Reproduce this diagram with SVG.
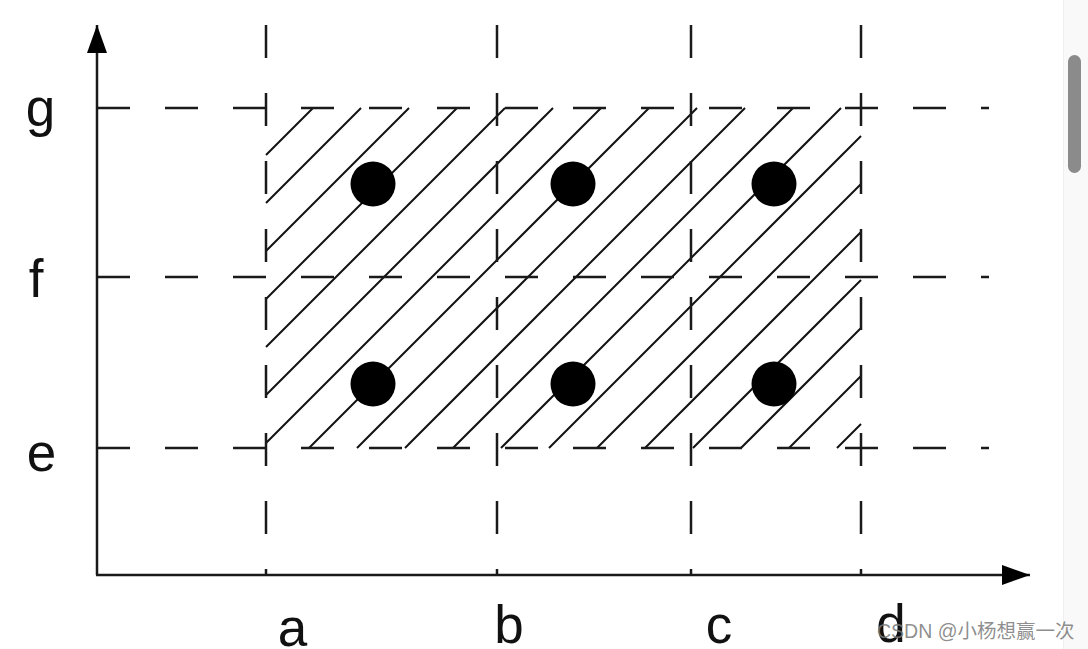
<svg xmlns="http://www.w3.org/2000/svg" width="1088" height="649" viewBox="0 0 1088 649">
  <style>
    .lbl { font-family: "Liberation Sans", Arial, sans-serif; font-size: 53px; fill: #111; }
    .dash { stroke: #1a1a1a; stroke-width: 2.5; stroke-dasharray: 33 35; fill: none; }
    .hatch { stroke: #111; stroke-width: 2; fill: none; }
    .axis { stroke: #1a1a1a; stroke-width: 2.5; fill: none; }
  </style>
  <defs>
    <marker id="arrow" viewBox="0 0 28 20" refX="28" refY="10" markerWidth="28" markerHeight="20" markerUnits="userSpaceOnUse" orient="auto">
      <path d="M0,0 L28,10 L0,20 Z" fill="#000"/>
    </marker>
  </defs>
  <rect width="1088" height="649" fill="#fff"/>

  <!-- scrollbar artifact -->
  <g id="scrollbar">
    <rect x="1063" y="0" width="25" height="649" fill="#f9f9f9"/>
    <line x1="1063.5" y1="0" x2="1063.5" y2="649" stroke="#efefef" stroke-width="1"/>
    <rect x="1068" y="55" width="13" height="118" rx="6.5" fill="#8b8b8b"/>
  </g>

  <!-- hatch region -->
  <g id="hatch" class="hatch">
    <line x1="266" y1="155" x2="313" y2="108"/>
    <line x1="266" y1="203" x2="361" y2="108"/>
    <line x1="266" y1="251" x2="409" y2="108"/>
    <line x1="266" y1="299" x2="457" y2="108"/>
    <line x1="266" y1="347" x2="505" y2="108"/>
    <line x1="266" y1="395" x2="553" y2="108"/>
    <line x1="266" y1="443" x2="601" y2="108"/>
    <line x1="309" y1="448" x2="649" y2="108"/>
    <line x1="357" y1="448" x2="697" y2="108"/>
    <line x1="405" y1="448" x2="745" y2="108"/>
    <line x1="453" y1="448" x2="793" y2="108"/>
    <line x1="501" y1="448" x2="841" y2="108"/>
    <line x1="549" y1="448" x2="861" y2="136"/>
    <line x1="597" y1="448" x2="861" y2="184"/>
    <line x1="645" y1="448" x2="861" y2="232"/>
    <line x1="693" y1="448" x2="861" y2="280"/>
    <line x1="741" y1="448" x2="861" y2="328"/>
    <line x1="789" y1="448" x2="861" y2="376"/>
    <line x1="837" y1="448" x2="861" y2="424"/>
  </g>

  <!-- connectors: axes and dashed grid -->
  <g id="connectors">
    <line class="dash" x1="97" y1="108" x2="989" y2="108"/>
    <line class="dash" x1="97" y1="277" x2="989" y2="277"/>
    <line class="dash" x1="97" y1="448" x2="989" y2="448"/>
    <line class="dash" x1="266" y1="25" x2="266" y2="575"/>
    <line class="dash" x1="497" y1="25" x2="497" y2="575"/>
    <line class="dash" x1="691" y1="25" x2="691" y2="575"/>
    <line class="dash" x1="861" y1="25" x2="861" y2="575"/>
    <line class="axis" x1="97" y1="575" x2="97" y2="25" marker-end="url(#arrow)"/>
    <line class="axis" x1="96" y1="575" x2="1030" y2="575" marker-end="url(#arrow)"/>
  </g>

  <!-- points -->
  <g id="points" fill="#000">
    <circle id="p1" cx="373" cy="184" r="22.5"/>
    <circle id="p2" cx="573" cy="184" r="22.5"/>
    <circle id="p3" cx="774" cy="184" r="22.5"/>
    <circle id="p4" cx="373" cy="384" r="22.5"/>
    <circle id="p5" cx="573" cy="384" r="22.5"/>
    <circle id="p6" cx="774" cy="384" r="22.5"/>
  </g>

  <!-- labels -->
  <g id="labels">
    <text class="lbl" x="40.5" y="126" text-anchor="middle">g</text>
    <text class="lbl" x="36" y="297" text-anchor="middle">f</text>
    <text class="lbl" x="41.5" y="471" text-anchor="middle">e</text>
    <text class="lbl" x="292.5" y="646" text-anchor="middle">a</text>
    <text class="lbl" x="509" y="643" text-anchor="middle">b</text>
    <text class="lbl" x="719" y="643" text-anchor="middle">c</text>
    <text class="lbl" x="891" y="642" text-anchor="middle">d</text>
  </g>

  <!-- watermark -->
  <g id="watermark">
    <text x="877" y="638" font-family="'Liberation Sans', 'Noto Sans CJK SC', sans-serif" font-size="19.5" fill="#7a7a7a" fill-opacity="0.85">CSDN @小杨想赢一次</text>
  </g>
</svg>
